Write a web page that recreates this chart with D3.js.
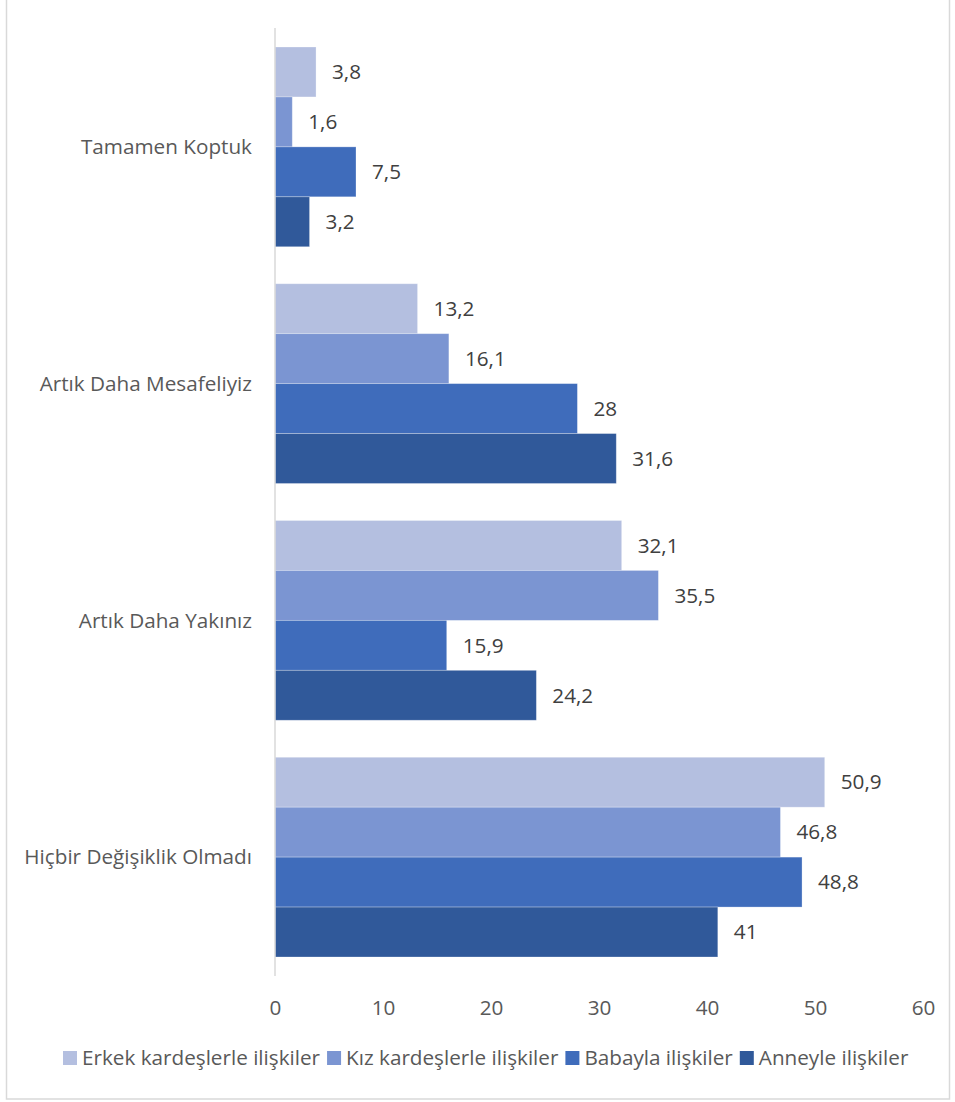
<!DOCTYPE html>
<html><head><meta charset="utf-8">
<script src="https://cdn.jsdelivr.net/npm/d3@7"></script>
<style>body{margin:0;background:#fff}svg{display:block}</style>
</head><body><svg id="c" width="955" height="1102"></svg>
<script>
const categories = ["Tamamen Koptuk", "Artık Daha Mesafeliyiz", "Artık Daha Yakınız", "Hiçbir Değişiklik Olmadı"];
const seriesNames = ["Erkek kardeşlerle ilişkiler", "Kız kardeşlerle ilişkiler", "Babayla ilişkiler", "Anneyle ilişkiler"];
const erkek = [3.8, 13.2, 32.1, 50.9];
const kiz = [1.6, 16.1, 35.5, 46.8];
const baba = [7.5, 28, 15.9, 48.8];
const anne = [3.2, 31.6, 24.2, 41];
const xTicks = [0, 10, 20, 30, 40, 50, 60];
const colors = ["#B4BFE0", "#7B95D2", "#3F6CBB", "#30599A"];
const seriesValues = [erkek, kiz, baba, anne];

const svg = d3.select("#c");
const font = "'Open Sans', 'Noto Sans', sans-serif";
const fs = 20.7;
const textColor = "#595959";

svg.append("rect").attr("x", 6.5).attr("y", -1).attr("width", 943).attr("height", 1100)
  .attr("fill", "#fff").attr("stroke", "#D9D9D9").attr("stroke-width", 1.5);

const x = d3.scaleLinear().domain([0, 60]).range([275, 923]);
const y0 = d3.scaleBand().domain(categories).range([28.5, 975.5]).paddingInner(37/236.75).paddingOuter(18.5/236.75);
const y1 = d3.scaleBand().domain(seriesNames).range([0, y0.bandwidth()]);

const g = svg.append("g");
categories.forEach((c, ci) => {
  seriesNames.forEach((s, si) => {
    const v = seriesValues[si][ci];
    const yy = y0(c) + y1(s);
    g.append("rect").attr("x", x(0)).attr("y", yy).attr("width", x(v) - x(0)).attr("height", y1.bandwidth())
      .attr("fill", colors[si]).attr("stroke", "#fff").attr("stroke-opacity", 0.35).attr("stroke-width", 0.8);
    g.append("text").attr("x", x(v) + 16).attr("y", yy + y1.bandwidth()/2).attr("dy", "0.35em")
      .attr("font-family", font).attr("font-size", fs).attr("fill", "#404040")
      .text(String(v).replace(".", ","));
  });
  g.append("text").attr("x", 252).attr("y", y0(c) + y0.bandwidth()/2).attr("dy", "0.35em")
    .attr("text-anchor", "end").attr("font-family", font).attr("font-size", fs).attr("fill", textColor).text(c);
});

svg.append("line").attr("x1", x(0)).attr("x2", x(0)).attr("y1", 28).attr("y2", 976)
  .attr("stroke", "#D9D9D9").attr("stroke-width", 1.5);

const xAxis = d3.axisBottom(x).tickValues(xTicks).tickSize(0).tickPadding(0);
const ax = svg.append("g").attr("transform", "translate(0,1008)").call(xAxis);
ax.select(".domain").remove();
ax.selectAll("text").attr("font-family", font).attr("font-size", fs).attr("fill", textColor).attr("dy", "0.35em").attr("y", 0);

const leg = svg.append("g").attr("transform", "translate(0,1058)");
let lx = 63;
seriesNames.forEach((s, i) => {
  leg.append("rect").attr("x", lx).attr("y", -7).attr("width", 14).attr("height", 14).attr("fill", colors[i]);
  const t = leg.append("text").attr("x", lx + 19).attr("y", 0).attr("dy", "0.35em")
    .attr("font-family", font).attr("font-size", fs).attr("fill", textColor).text(s);
  lx += 19 + t.node().getComputedTextLength() + 7;
});
</script></body></html>
